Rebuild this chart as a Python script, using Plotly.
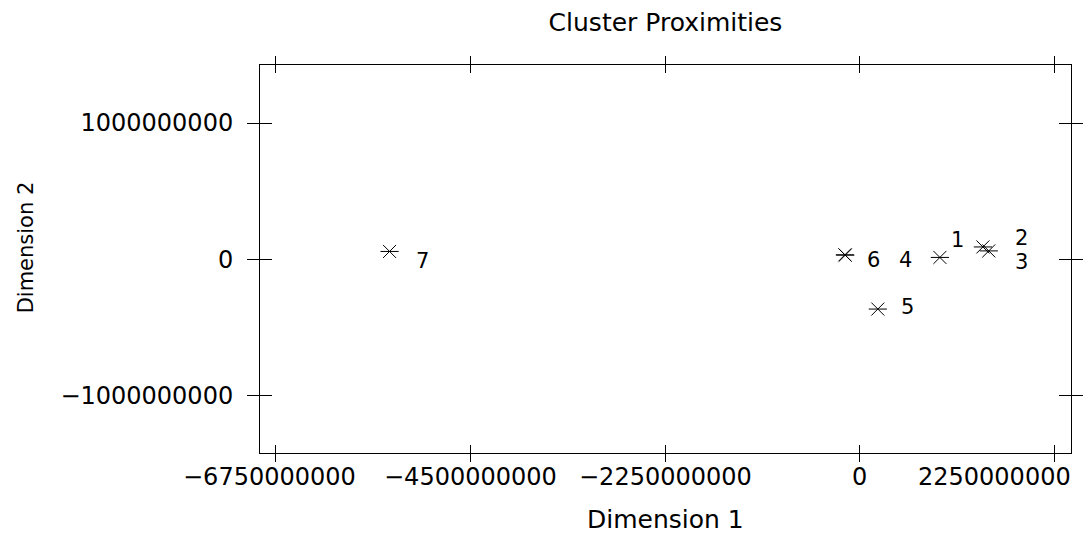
import plotly.graph_objects as go

# ---- data ----
cluster_ids = ["1", "2", "3", "4", "5", "6", "7"]
dim1 = [9.25e8, 1.422e9, 1.49e9, -1.68e8, 2.08e8, -1.73e8, -5.434e9]
dim2 = [1.3e7, 9.0e7, 6.1e7, 3.0e7, -3.66e8, 3.2e7, 5.7e7]

x_tick_vals = [-6750000000, -4500000000, -2250000000, 0, 2250000000]
x_tick_text = ["\u22126750000000", "\u22124500000000", "\u22122250000000", "0", "2250000000"]
y_tick_vals = [-1000000000, 0, 1000000000]
y_tick_text = ["\u22121000000000", "0", "1000000000"]

title_text = "Cluster Proximities"
x_title = "Dimension 1"
y_title = "Dimension 2"

# ---- styling (label offsets in px, not data) ----
label_dx = [18, 39, 33, 60, 30, 29, 33]
label_dy = [17.5, 9, -11, -5, 2, -5.5, -10]
x_label_shift = [-6, 0, 0, 0, -60]

FONT = "DejaVu Sans"
X_RANGE = [-6.931e9, 2.44e9]
Y_RANGE = [-1.423e9, 1.426e9]

fig = go.Figure()

# star marker: horizontal bar + diagonal cross
for sym in ["line-ew-open", "x-thin-open"]:
    fig.add_trace(go.Scatter(
        x=dim1, y=dim2, mode="markers",
        marker=dict(symbol=sym, size=13, color="black",
                    line=dict(color="black", width=1)),
        showlegend=False, hoverinfo="skip"))

# invisible trace to create overlay axes (for crossing ticks)
fig.add_trace(go.Scatter(x=[None], y=[None], xaxis="x2", yaxis="y2",
                         showlegend=False, hoverinfo="skip"))

annotations = []
for cid, xv, yv, dx, dy in zip(cluster_ids, dim1, dim2, label_dx, label_dy):
    annotations.append(dict(
        x=xv, y=yv, xref="x", yref="y", text=cid, showarrow=False,
        xshift=dx, yshift=dy, xanchor="center", yanchor="middle",
        font=dict(family=FONT, size=21, color="black")))

for tv, tt, sh in zip(x_tick_vals, x_tick_text, x_label_shift):
    annotations.append(dict(
        x=tv, y=0, xref="x", yref="paper", text=tt, showarrow=False,
        xshift=sh, yshift=-24, xanchor="center", yanchor="middle",
        font=dict(family=FONT, size=24, color="black")))

annotations.append(dict(
    x=0.5, y=0, xref="paper", yref="paper", text=x_title, showarrow=False,
    yshift=-66, xanchor="center", yanchor="middle",
    font=dict(family=FONT, size=25, color="black")))
annotations.append(dict(
    x=0, y=0.53, xref="paper", yref="paper", text=y_title, showarrow=False,
    xshift=-234, textangle=-90, xanchor="center", yanchor="middle",
    font=dict(family=FONT, size=21, color="black")))

axis_common = dict(showgrid=False, zeroline=False, showline=True,
                   linecolor="black", linewidth=1, tickcolor="black",
                   tickwidth=1, mirror="ticks", automargin=False)

fig.update_layout(
    width=1083, height=535,
    margin=dict(l=260, r=12, t=65, b=82, autoexpand=False),
    paper_bgcolor="white", plot_bgcolor="white",
    title=dict(text=title_text, x=0.5, xref="paper", xanchor="center",
               y=1 - 22 / 535, yref="container", yanchor="middle",
               font=dict(family=FONT, size=25, color="black"),
               automargin=False),
    xaxis=dict(range=X_RANGE, tickvals=x_tick_vals, showticklabels=False,
               ticks="outside", ticklen=8, **axis_common),
    yaxis=dict(range=Y_RANGE, tickvals=y_tick_vals, ticktext=y_tick_text,
               ticks="outside", ticklen=12, ticklabelstandoff=9,
               tickfont=dict(family=FONT, size=24, color="black"),
               **axis_common),
    xaxis2=dict(range=X_RANGE, tickvals=x_tick_vals, showticklabels=False,
                overlaying="x", anchor="y2", side="bottom",
                ticks="inside", ticklen=8, **axis_common),
    yaxis2=dict(range=Y_RANGE, tickvals=y_tick_vals, showticklabels=False,
                overlaying="y", anchor="x2", side="left",
                ticks="inside", ticklen=12, **axis_common),
    annotations=annotations,
)

fig.write_html("out.html")
